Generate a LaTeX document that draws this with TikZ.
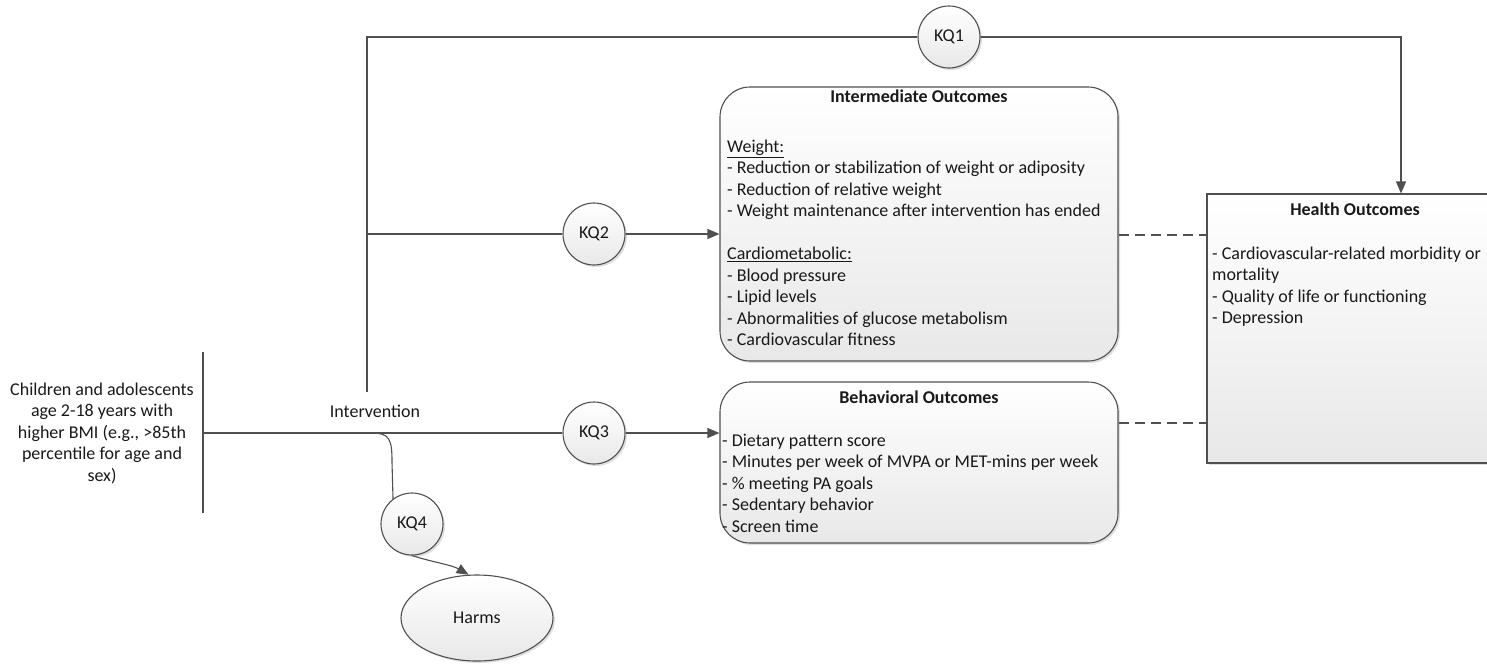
\documentclass[tikz,border=0pt]{standalone}
\usepackage{fontspec}
\setmainfont{Carlito}
\usetikzlibrary{arrows.meta,shapes.geometric,shadows}
\definecolor{lncol}{HTML}{505050}
\definecolor{shadeb}{HTML}{E8E8E8}
\tikzset{
  txt/.style={font=\fontsize{18}{21.5}\selectfont, text=black!90, inner sep=0pt},
  ttl/.style={txt, font=\fontsize{18}{21.5}\selectfont\bfseries, anchor=base},
  boxbase/.style={draw=lncol, line width=1.1pt, top color=white, bottom color=shadeb,
    drop shadow={shadow xshift=2pt, shadow yshift=-2pt, opacity=0.25}},
  roundbox/.style={boxbase, rectangle, rounded corners=30pt},
  kq/.style={boxbase, circle, minimum size=62pt, inner sep=0pt, txt},
  conn/.style={draw=lncol, line width=1.1pt},
  arr/.style={conn, -{Triangle[length=12pt,width=10pt]}},
  dsh/.style={conn, dash pattern=on 10pt off 6pt},
}
\begin{document}
\begin{tikzpicture}[x=1pt,y=-1pt]
\clip (0,0) rectangle (1487,665);

% boxes
\node[roundbox, minimum width=398pt, minimum height=274pt] (inter) at (919,224) {};
\node[roundbox, minimum width=398pt, minimum height=161pt] (beh) at (919,462.5) {};
\node[boxbase, rectangle, minimum width=288pt, minimum height=269pt] (health) at (1351,328.5) {};
\node[boxbase, ellipse, minimum width=152pt, minimum height=86pt, txt] (harms) at (477,618) {Harms};

% KQ circles
\node[kq] (kq1) at (949,37) {KQ1};
\node[kq] (kq2) at (594,234) {KQ2};
\node[kq] (kq3) at (594,433) {KQ3};
\node[kq] (kq4) at (412,524) {KQ4};

% texts
\node[txt, align=center] (pop) at (102,433) {Children and adolescents\\age 2-18 years with\\higher BMI (e.g., >85th\\percentile for age and\\sex)};
\node[txt] (intv) at (375,411) {Intervention};

\node[ttl] (intertitle) at (919,102) {Intermediate Outcomes};
\node[txt, align=left, anchor=north west] (intertext) at (727,137) {\strut\underline{Weight:}\\
- Reduction or stabilization of weight or adiposity\\
- Reduction of relative weight\\
- Weight maintenance after intervention has ended\\[21.5pt]
\underline{Cardiometabolic:}\\
- Blood pressure\\
- Lipid levels\\
- Abnormalities of glucose metabolism\\
- Cardiovascular fitness};

\node[ttl] (behtitle) at (919,403) {Behavioral Outcomes};
\node[txt, align=left, anchor=north west] (behtext) at (722,431) {\strut- Dietary pattern score\\
- Minutes per week of MVPA or MET-mins per week\\
- \% meeting PA goals\\
- Sedentary behavior\\
- Screen time};

\node[ttl] (healthtitle) at (1355,215) {Health Outcomes};
\node[txt, align=left, anchor=north west] (healthtext) at (1212,244) {\strut- Cardiovascular-related morbidity or\\
mortality\\
- Quality of life or functioning\\
- Depression};

% coordinates
\coordinate (pt) at (203,352);
\coordinate (pb) at (203,513);
\coordinate (pm) at (203,433);
\coordinate (vi) at (367,392);
\coordinate (v1) at (367,37);
\coordinate (h1) at (1401,37);
\coordinate (k2s) at (367,234);
\coordinate (k4s) at (372,433);
\coordinate (d1) at (1160,235);
\coordinate (d2) at (1160,423);

% connectors
\draw[conn] (pt) -- (pb);
\draw[conn] (pm) -- (kq3);
\draw[arr] (kq3) -- (beh.west |- kq3);
\draw[conn] (vi) -- (v1) -- (kq1);
\draw[arr] (kq1) -- (h1) -- (h1 |- health.north);
\draw[conn] (k2s) -- (kq2);
\draw[arr] (kq2) -- (inter.west |- kq2);
\draw[dsh] (inter.east |- d1) -- (health.west |- d1);
\draw[dsh] (beh.east |- d2) -- (health.west |- d2);
\draw[conn] (k4s) .. controls (390,433) and (392,440) .. (392,462) -- (kq4.127);
\draw[arr] (kq4.south) .. controls (432,562) and (452,565) .. (harms.101);
\end{tikzpicture}
\end{document}
